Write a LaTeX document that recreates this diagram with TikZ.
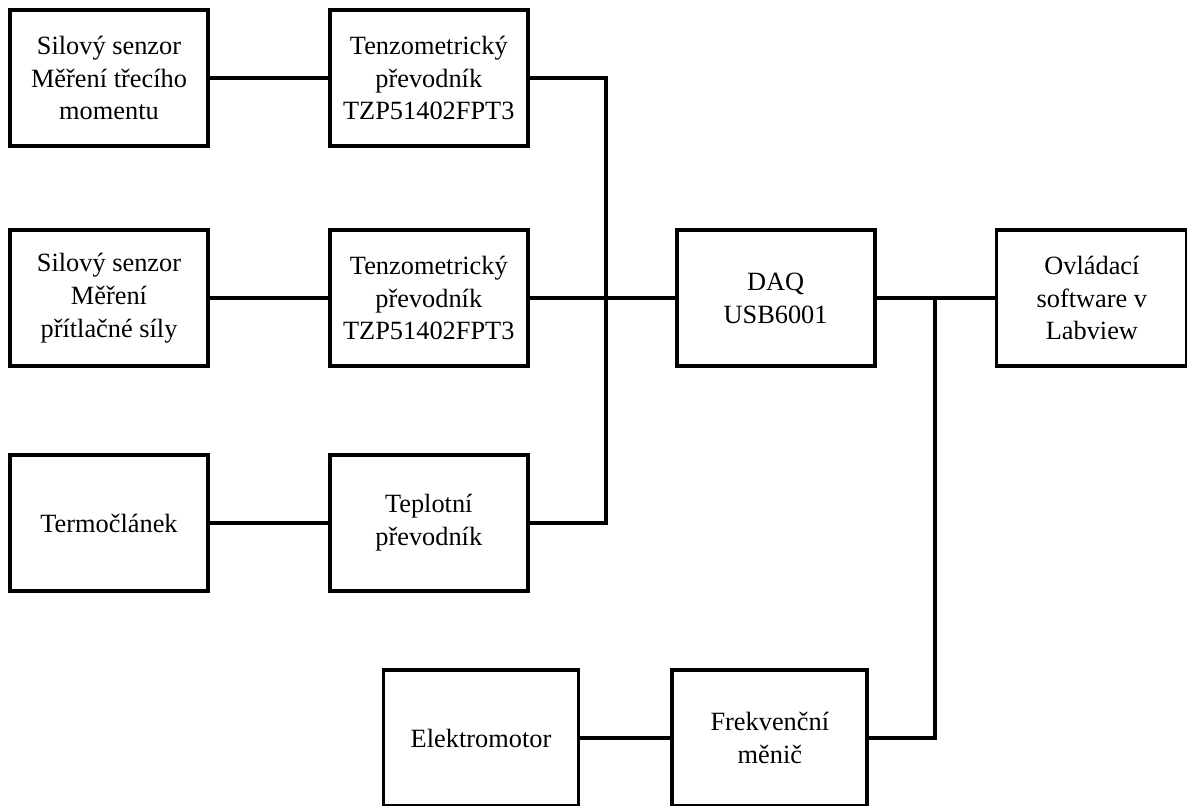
\documentclass[tikz,border=0pt]{standalone}
\usepackage{fontspec}
\setmainfont{Liberation Serif}
\usetikzlibrary{positioning}

\begin{document}
\begin{tikzpicture}[x=0.02cm,y=-0.02cm,node distance=2.36cm]
  \tikzstyle{block}=[draw=black,line width=2.2pt,minimum width=3.96cm,minimum height=2.72cm,align=center,inner sep=2pt,font=\fontsize{15}{18.7}\selectfont]
  \tikzstyle{wire}=[draw=black,line width=2pt]
  \useasboundingbox (0,0) rectangle (1187,805);

  % sensors and converters
  \node[block] (sila1)              at (109,78)  {Silový senzor\\Měření třecího\\momentu};
  \node[block] (tenzo1) [right=of sila1]  {Tenzometrický\\převodník\\TZP51402FPT3};
  \node[block] (sila2)              at (109,298) {Silový senzor\\Měření\\přítlačné síly};
  \node[block] (tenzo2) [right=of sila2]  {Tenzometrický\\převodník\\TZP51402FPT3};
  \node[block] (termo)              at (109,523) {Termočlánek};
  \node[block] (teplo)  [right=of termo]  {Teplotní\\převodník};

  % acquisition and control
  \node[block] (daq) [right=2.9cm of tenzo2] {DAQ\\USB6001};
  \node[block, minimum width=3.82cm] (ovl) [right=2.36cm of daq] {Ovládací\\software v\\Labview};

  % drive
  \node[block, minimum width=3.9cm] (motor) at (481,738) {Elektromotor};
  \node[block, minimum width=3.9cm] (frek) [right=1.8cm of motor] {Frekvenční\\měnič};

  \coordinate (bus) at (606,78);
  \coordinate (tap) at (935,299);

  \path[wire]
  (sila1) -- (tenzo1)
  (sila2) -- (tenzo2)
  (termo) -- (teplo)
  (tenzo1.east) -- (bus) |- (teplo.east)
  (tenzo2.east) -- (daq.west)
  (daq.east) -- (ovl.west)
  (tap) |- (frek.east)
  (motor) -- (frek);
\end{tikzpicture}
\end{document}
